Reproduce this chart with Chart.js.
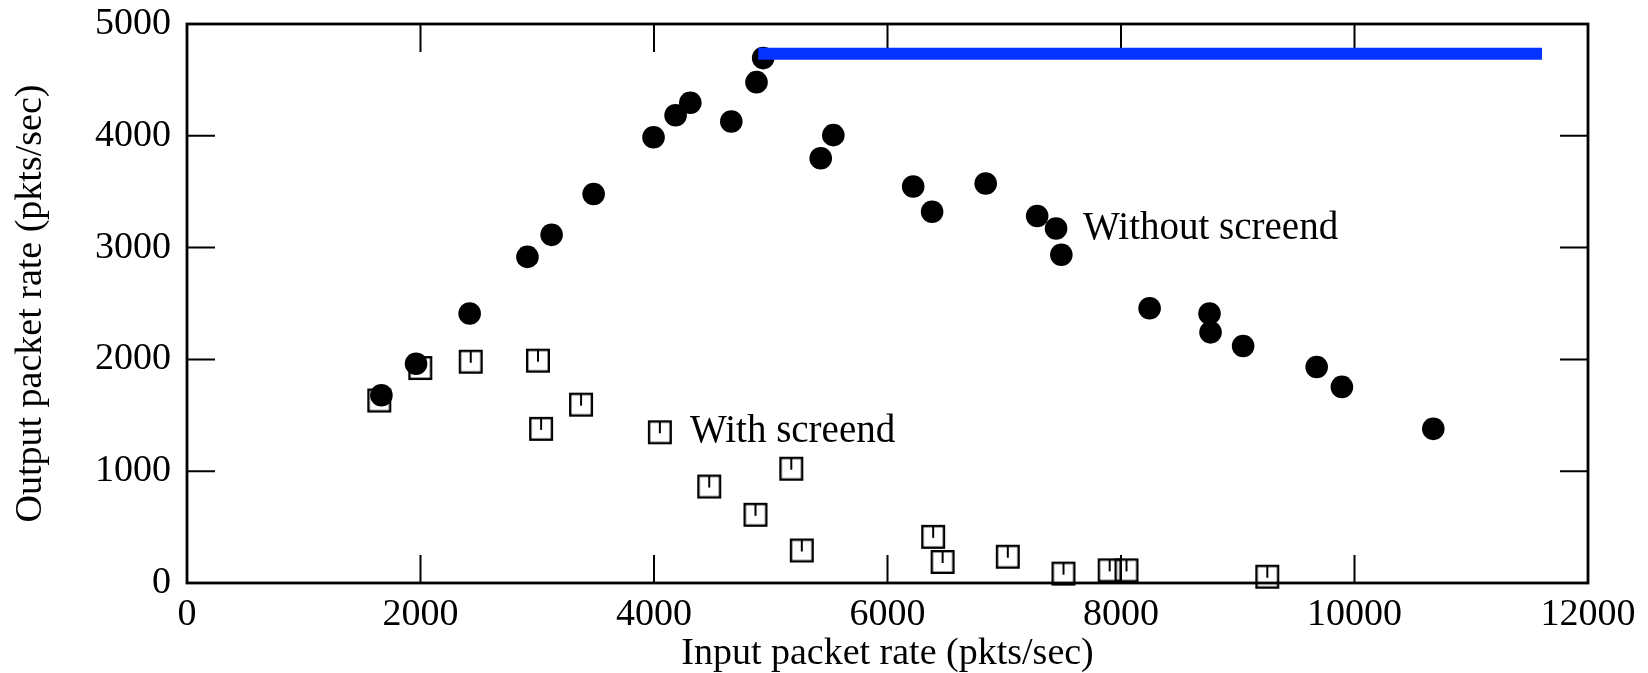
<!DOCTYPE html>
<html>
<head>
<meta charset="utf-8">
<script src="https://cdn.jsdelivr.net/npm/chart.js@4"></script>
<style>
  body { margin: 0; background: #fff; }
  canvas { display: block; }
</style>
</head>
<body>
<canvas id="rateChart" width="1648" height="673"></canvas>
<script>
// Without screend (filled circles)
const withoutX = [1665, 1962, 2421, 2916, 3123, 3483, 3996, 4185, 4311, 4662, 4878, 4935, 5428, 5536,
                  6220, 6382, 6841, 7282, 7444, 7489, 8245, 8758, 8767, 9046, 9676, 9892, 10675];
const withoutY = [1679, 1961, 2411, 2917, 3114, 3480, 3987, 4184, 4296, 4128, 4480, 4695, 3799, 4006,
                  3546, 3321, 3574, 3283, 3171, 2936, 2458, 2411, 2242, 2120, 1932, 1754, 1379];

// With screend (open squares)
const withX = [1647, 1998, 2430, 3006, 3033, 3375, 4050, 4473, 4869, 5176, 5266, 6391, 6472, 7030, 7507, 7903, 8047, 9253];
const withY = [1632, 1923, 1979, 1989, 1379, 1595, 1348, 863, 610, 1022, 291, 413, 188, 235, 84, 113, 113, 56];

// blue horizontal line
const capX = [4893, 11606];
const capY = [4733, 4733];

const xTicks = [0, 2000, 4000, 6000, 8000, 10000, 12000];
const yTicks = [0, 1000, 2000, 3000, 4000, 5000];

const labelText = ['Without screend', 'With screend'];
const labelX = [7675, 4308];
const labelY = [3166, 1351];

const FONT = 'Liberation Serif';

function toPoints(xs, ys) {
    return xs.map((x, i) => ({ x: x, y: ys[i] }));
}

// open square with the little tick from the top edge
function makeSquare() {
    const c = document.createElement('canvas');
    c.width = 28;
    c.height = 28;
    const g = c.getContext('2d');
    g.strokeStyle = '#000';
    g.lineWidth = 2.4;
    g.strokeRect(3.2, 3.2, 21.6, 21.6);
    g.lineWidth = 2;
    g.beginPath();
    g.moveTo(14, 3.2);
    g.lineTo(14, 15);
    g.stroke();
    return c;
}

// box frame with inward ticks on all four sides
const framePlugin = {
    id: 'frame',
    beforeDatasetsDraw(chart) {
        const { ctx, chartArea: a, scales } = chart;
        ctx.save();
        ctx.strokeStyle = '#000';
        ctx.lineWidth = 2;
        ctx.beginPath();
        scales.x.ticks.forEach(t => {
            const px = scales.x.getPixelForValue(t.value);
            ctx.moveTo(px, a.bottom); ctx.lineTo(px, a.bottom - 28);
            ctx.moveTo(px, a.top); ctx.lineTo(px, a.top + 28);
        });
        scales.y.ticks.forEach(t => {
            const py = scales.y.getPixelForValue(t.value);
            ctx.moveTo(a.left, py); ctx.lineTo(a.left + 28, py);
            ctx.moveTo(a.right, py); ctx.lineTo(a.right - 28, py);
        });
        ctx.stroke();
        ctx.lineWidth = 2.8;
        ctx.strokeRect(a.left, a.top, a.right - a.left, a.bottom - a.top);
        ctx.restore();
    }
};

const labelPlugin = {
    id: 'seriesLabels',
    afterDatasetsDraw(chart) {
        const { ctx, scales } = chart;
        ctx.save();
        ctx.fillStyle = '#000';
        ctx.font = '39px "' + FONT + '"';
        ctx.textAlign = 'left';
        ctx.textBaseline = 'middle';
        labelText.forEach((txt, i) => {
            ctx.fillText(txt, scales.x.getPixelForValue(labelX[i]), scales.y.getPixelForValue(labelY[i]));
        });
        ctx.restore();
    }
};

const ctx = document.getElementById('rateChart').getContext('2d');
new Chart(ctx, {
    type: 'scatter',
    data: {
        datasets: [
            {
                type: 'line',
                label: 'limit',
                data: toPoints(capX, capY),
                borderColor: '#0433ff',
                borderWidth: 12,
                borderCapStyle: 'butt',
                pointRadius: 0,
                fill: false,
                clip: false
            },
            {
                label: 'Without screend',
                data: toPoints(withoutX, withoutY),
                pointStyle: 'circle',
                pointRadius: 11.3,
                backgroundColor: '#000',
                borderWidth: 0,
                clip: false
            },
            {
                label: 'With screend',
                data: toPoints(withX, withY),
                pointStyle: makeSquare(),
                pointRadius: 14,
                clip: false
            }
        ]
    },
    options: {
        responsive: false,
        animation: false,
        layout: { padding: { top: 24, right: 60, left: 0, bottom: 0 } },
        plugins: {
            legend: { display: false },
            tooltip: { enabled: false }
        },
        scales: {
            x: {
                type: 'linear',
                min: 0,
                max: 12000,
                afterBuildTicks: s => { s.ticks = xTicks.map(v => ({ value: v })); },
                afterFit: s => { s.height = 90; s.paddingLeft = 0; s.paddingRight = 0; },
                grid: { display: false, drawTicks: false },
                border: { display: false },
                ticks: {
                    color: '#000',
                    padding: 9,
                    maxRotation: 0,
                    font: { family: FONT, size: 38 },
                    callback: v => String(v)
                },
                title: {
                    display: true,
                    text: 'Input packet rate (pkts/sec)',
                    color: '#000',
                    padding: { top: 0, bottom: -4 },
                    font: { family: FONT, size: 38 }
                }
            },
            y: {
                type: 'linear',
                min: 0,
                max: 5000,
                afterBuildTicks: s => { s.ticks = yTicks.map(v => ({ value: v })); },
                afterFit: s => { s.width = 187; s.paddingTop = 0; s.paddingBottom = 0; },
                grid: { display: false, drawTicks: false },
                border: { display: false },
                ticks: {
                    color: '#000',
                    padding: 16,
                    font: { family: FONT, size: 38 },
                    callback: v => String(v)
                },
                title: {
                    display: true,
                    text: 'Output packet rate (pkts/sec)',
                    color: '#000',
                    padding: { top: 8, bottom: 0 },
                    font: { family: FONT, size: 38 }
                }
            }
        }
    },
    plugins: [framePlugin, labelPlugin]
});
</script>
</body>
</html>
